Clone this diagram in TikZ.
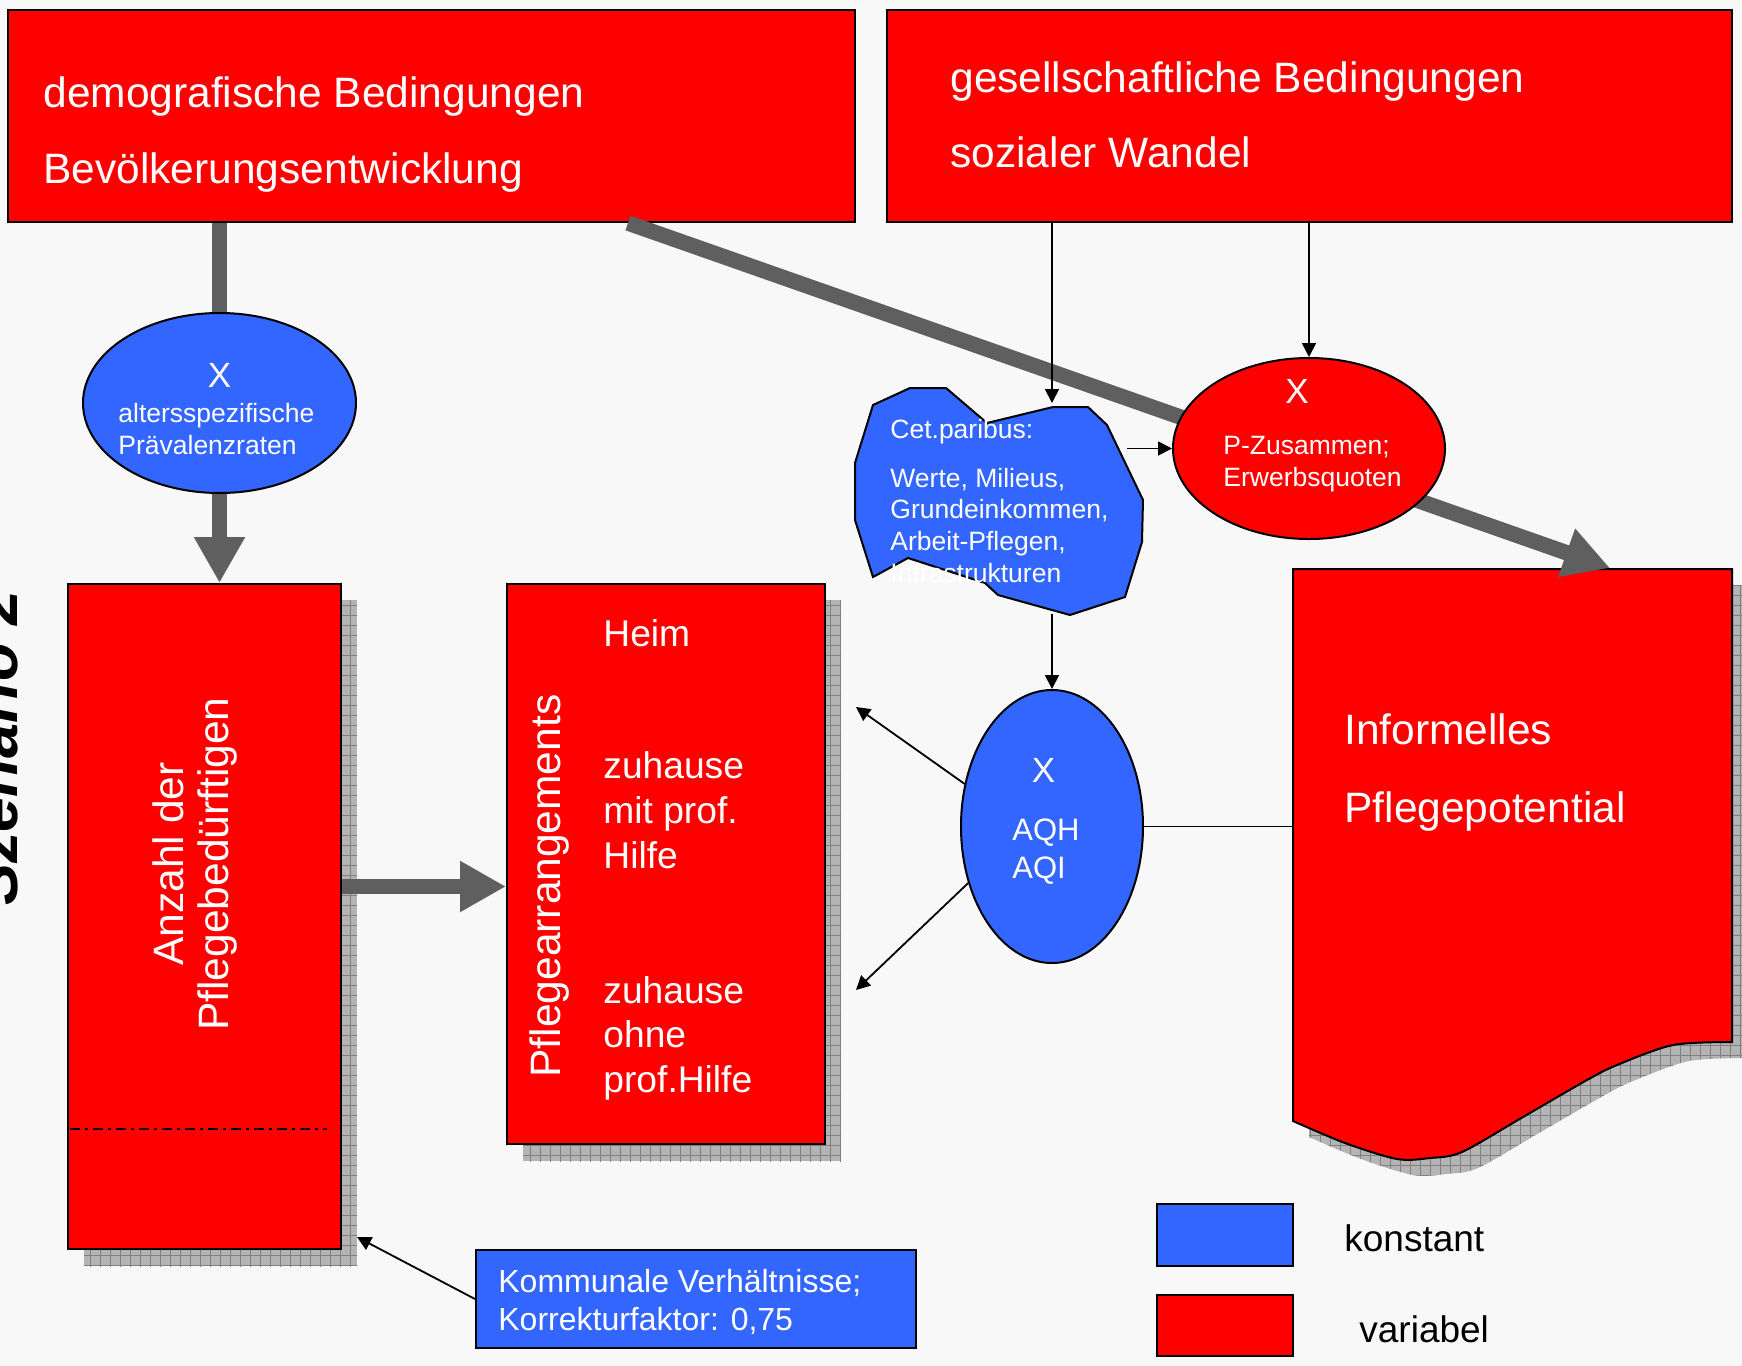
\documentclass[tikz,border=0pt]{standalone}
\usepackage{fontspec}
\setmainfont{Liberation Sans}
\usetikzlibrary{arrows.meta,shapes.geometric,patterns.meta,calc}
\definecolor{myred}{HTML}{FF0000}
\definecolor{myblue}{HTML}{3366FF}
\definecolor{arrowgray}{HTML}{5F5F5F}
\definecolor{bgcol}{HTML}{F8F8F8}
\definecolor{shgray}{HTML}{B4B4B4}
\definecolor{shline}{HTML}{808080}
\tikzset{
  redbox/.style={draw=black, line width=1pt, fill=myred, inner sep=0},
  bluebox/.style={draw=black, line width=1pt, fill=myblue, inner sep=0},
  redell/.style={ellipse, draw=black, line width=1pt, fill=myred, inner sep=0},
  blueell/.style={ellipse, draw=black, line width=1pt, fill=myblue, inner sep=0},
  shadowfill/.style={preaction={fill=shgray}, pattern={Hatch[angle=0,distance=5pt,line width=0.5pt]}, pattern color=shline},
  bigline/.style={draw=arrowgray, line width=7.75pt},
  bigarrow/.style={draw=arrowgray, line width=7.75pt, -{Triangle[length=23pt,width=24pt]}},
  thinarrow/.style={draw=black, line width=0.9pt, -{Triangle[length=7pt,width=7pt]}},
  thinline/.style={draw=black, line width=0.9pt},
  wt/.style={text=white, inner sep=0, anchor=base west},
  bt/.style={text=black, inner sep=0, anchor=base west},
  fbig/.style={font=\fontsize{21.25}{25}\selectfont},
  flist/.style={font=\fontsize{18.6}{22}\selectfont},
  fsmall/.style={font=\fontsize{13.25}{16}\selectfont},
  fx/.style={font=\fontsize{17.5}{20}\selectfont},
  faq/.style={font=\fontsize{15.5}{19}\selectfont},
  fkom/.style={font=\fontsize{16}{19}\selectfont},
  fleg/.style={font=\fontsize{18.5}{22}\selectfont},
}
\begin{document}
\begin{tikzpicture}[x=0.5pt,y=-0.5pt]
\useasboundingbox (0,0) rectangle (1742,1366);
\fill[bgcol] (0,0) rectangle (1742,1366);

% Szenario label (cut at left edge, as in the reference)
\node[bt, rotate=90, font=\fontsize{31.5}{36}\selectfont\bfseries\itshape] (szen) at (18,906) {Szenario 2};

% shadows
\path[shadowfill] (84,600) rectangle (357,1266);
\path[shadowfill] (523,600) rectangle (841,1161);
\begin{scope}[shift={(16,16)}]
\path[shadowfill] (1293,569) -- (1732,569) -- (1732,1042) -- plot[smooth, tension=0.5] coordinates {(1732,1042) (1673,1045) (1617,1065) (1587,1080) (1523,1117) (1462,1152) (1430,1158) (1397,1159) (1345,1143) (1293,1121)} -- cycle;
\end{scope}

% top boxes
\node[redbox, minimum width=423.5pt, minimum height=106pt] (demo) at (431.5,116) {};
\node[redbox, minimum width=422.5pt, minimum height=106pt] (gesell) at (1309.5,116) {};
\node[wt, fbig] (d1) at (43,107) {demografische Bedingungen};
\node[wt, fbig] (d2) at (43,183) {Bevölkerungsentwicklung};
\node[wt, fbig] (g1) at (950,92) {gesellschaftliche Bedingungen};
\node[wt, fbig] (g2) at (950,167) {sozialer Wandel};

% Anzahl box
\node[redbox, minimum width=136.5pt, minimum height=332.5pt] (anzahl) at (204.5,916.5) {};
\draw[line width=1pt, dash pattern=on 5pt off 2.5pt on 1.5pt off 2.5pt] (70,1129) -- (327,1129);
\node[text=white, inner sep=0, anchor=base, rotate=90, fbig] (a1) at (183,864) {Anzahl der};
\node[text=white, inner sep=0, anchor=base, rotate=90, fbig] (a2) at (228,864) {Pflegebedürftigen};

% Pflegearrangements box
\node[redbox, minimum width=159pt, minimum height=280pt] (pflege) at (666,864) {};
\node[text=white, inner sep=0, anchor=base, rotate=90, fbig] (p0) at (560,886) {Pflegearrangements};
\node[wt, flist] (p1) at (603,646) {Heim};
\node[wt, flist] (p2) at (603,778) {zuhause};
\node[wt, flist] (p3) at (603,823) {mit prof.};
\node[wt, flist] (p4) at (603,868) {Hilfe};
\node[wt, flist] (p5) at (603,1003) {zuhause};
\node[wt, flist] (p6) at (603,1047) {ohne};
\node[wt, flist] (p7) at (603,1092) {prof.Hilfe};

% document shape
\node[inner sep=0, minimum width=219.5pt, minimum height=295pt] (doc) at (1512.5,864) {};
\draw[line width=1pt, fill=myred] (1293,569) -- (1732,569) -- (1732,1042) -- plot[smooth, tension=0.5] coordinates {(1732,1042) (1673,1045) (1617,1065) (1587,1080) (1523,1117) (1462,1152) (1430,1158) (1397,1159) (1345,1143) (1293,1121)} -- cycle;
\node[wt, fbig] (i1) at (1344,744) {Informelles};
\node[wt, fbig] (i2) at (1344,822) {Pflegepotential};

% coordinates for connectors
\coordinate (dg1) at (628,223);
\coordinate (dg2) at (1610,568);
\coordinate (cltop) at (1052,403);
\coordinate (clright) at (1127,448.5);
\coordinate (clbot) at (1052,614);
\coordinate (b4a) at (856,707);
\coordinate (b4b) at (856,990);
\coordinate (b3tip) at (357,1237);
\coordinate (harr) at (0,886.5);

% ellipse 1
\node[blueell, minimum width=136.5pt, minimum height=90pt] (ell1) at (219.5,403) {};
\node[text=white, inner sep=0, anchor=base, fx] (x1) at (219.5,387) {X};
\node[wt, fsmall] (e11) at (118,422) {altersspezifische};
\node[wt, fsmall] (e12) at (118,454) {Prävalenzraten};

% thick arrows
\draw[bigline] (ell1.north |- demo.south) -- (ell1.north);
\draw[bigarrow] (ell1.south) -- (ell1.south |- anzahl.north);
\draw[bigarrow] (anzahl.east |- harr) -- (pflege.west |- harr);
\draw[bigarrow] (dg1) -- (dg2);

% cloud
\draw[line width=1pt, fill=myblue] (873,405) -- (910,388) -- (946,388) -- (987,423) -- (1053,407) -- (1088,407) -- (1107,425) -- (1143,500) -- (1142,542) -- (1125,597) -- (1070,615) -- (998,595) -- (985,583) -- (908,558) -- (873,577) -- (855,520) -- (855,463) -- cycle;
\node[wt, fsmall] (c1) at (890,438) {Cet.paribus:};
\node[wt, fsmall] (c2) at (890,487) {Werte, Milieus,};
\node[wt, fsmall] (c3) at (890,518) {Grundeinkommen,};
\node[wt, fsmall] (c4) at (890,550) {Arbeit-Pflegen,};
\node[wt, fsmall] (c5) at (890,582) {Infrastrukturen};

% ellipse 2
\node[redell, minimum width=136pt, minimum height=90.5pt] (ell2) at (1309,448.5) {};
\node[text=white, inner sep=0, anchor=base, fx] (x2) at (1297,403) {X};
\node[wt, fsmall] (e21) at (1223,454) {P-Zusammen;};
\node[wt, fsmall] (e22) at (1223,486) {Erwerbsquoten};

% ellipse 3
\node[blueell, minimum width=91pt, minimum height=136.5pt] (ell3) at (1052,826.5) {};
\node[text=white, inner sep=0, anchor=base, fx] (x3) at (1043.5,782) {X};
\node[wt, faq] (e31) at (1012,840) {AQH};
\node[wt, faq] (e32) at (1012,878) {AQI};

% Kommunale box
\node[bluebox, minimum width=220pt, minimum height=49pt] (komm) at (696,1299) {};
\node[wt, fkom] (k1) at (498,1292) {Kommunale Verhältnisse;};
\node[wt, fkom] (k2) at (498,1330) {Korrekturfaktor: 0,75};

% thin connectors
\draw[thinarrow] (cltop |- gesell.south) -- (cltop);
\draw[thinarrow] (ell2.north |- gesell.south) -- (ell2.north);
\draw[thinarrow] (clright) -- (ell2.west);
\draw[thinarrow] (clbot) -- (ell3.north);
\draw[thinarrow] (ell3.154) -- (b4a);
\draw[thinarrow] (ell3.214) -- (b4b);
\draw[thinline] (ell3.east) -- (ell3.east -| doc.west);
\draw[thinarrow] (komm.west) -- (b3tip);

% legend
\node[bluebox, minimum width=68pt, minimum height=31pt] (legb) at (1225,1235) {};
\node[redbox, minimum width=68pt, minimum height=30.5pt] (legr) at (1225,1325.5) {};
\node[bt, fleg] (l1) at (1344,1251) {konstant};
\node[bt, fleg] (l2) at (1359,1342) {variabel};
\end{tikzpicture}
\end{document}
